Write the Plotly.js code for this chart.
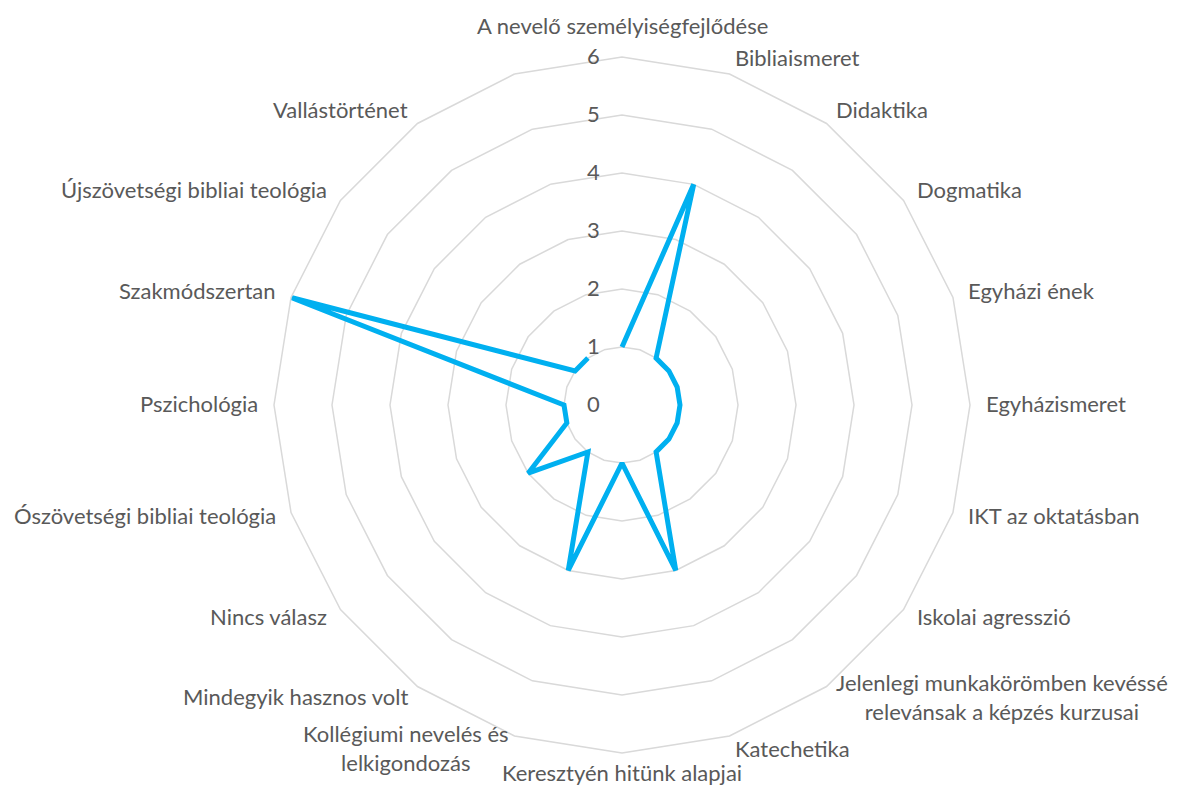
<!DOCTYPE html>
<html>
<head>
<meta charset="utf-8">
<script src="https://cdn.plot.ly/plotly-3.0.1.min.js"></script>
<style>html,body{margin:0;padding:0;background:#fff;}#chart{width:1179px;height:798px;}</style>
</head>
<body>
<div id="chart"></div>
<script>
const categories = [
  "A nevelő személyiségfejlődése",
  "Bibliaismeret",
  "Didaktika",
  "Dogmatika",
  "Egyházi ének",
  "Egyházismeret",
  "IKT az oktatásban",
  "Iskolai agresszió",
  "Jelenlegi munkakörömben kevéssé<br>relevánsak a képzés kurzusai",
  "Katechetika",
  "Keresztyén hitünk alapjai",
  "Kollégiumi nevelés és<br>lelkigondozás",
  "Mindegyik hasznos volt",
  "Nincs válasz",
  "Ószövetségi bibliai teológia",
  "Pszichológia",
  "Szakmódszertan",
  "Újszövetségi bibliai teológia",
  "Vallástörténet",
  " "
];
const values = [1, 4, 1, 1, 1, 1, 1, 1, 1, 3, 1, 3, 1, 2, 1, 1, 6, 1, 1, null];
const radialTicks = [0, 1, 2, 3, 4, 5, 6];

const fontFamily = "Lato, 'Open Sans', sans-serif";
const fontSize = 22;
const textColor = "#595959";
const gridColor = "#d9d9d9";

const W = 1179, H = 798;
const M = {l: 200, r: 135, t: 57, b: 45};
const plotW = W - M.l - M.r, plotH = H - M.t - M.b;
const cx = M.l + plotW / 2, cy = M.t + plotH / 2, R = Math.min(plotW, plotH) / 2;
const px2x = x => (x - M.l) / plotW;
const px2y = y => (H - M.b - y) / plotH;

// category labels placed outside the outer ring, anchored on the side facing the centre
const annotations = categories.map((c, i) => {
  const a = i * 2 * Math.PI / categories.length;
  const s = Math.sin(a), co = Math.cos(a);
  let g = 15;
  if (co > 0.99) g = 30;
  if (co < -0.99) g = 21;
  const x = cx + (R + g) * s;
  const y = cy - (R + g) * co - 2;
  return {
    text: c,
    xref: "paper", yref: "paper",
    x: px2x(x), y: px2y(y),
    xanchor: s > 0.05 ? "left" : (s < -0.05 ? "right" : "center"),
    yanchor: "middle",
    align: "center",
    showarrow: false,
    borderpad: 0,
    font: {family: fontFamily, size: fontSize, color: textColor}
  };
}).filter(a => a.text.trim() !== "");

Plotly.newPlot("chart", [{
  type: "scatterpolar",
  mode: "lines",
  r: values,
  theta: categories,
  connectgaps: false,
  line: {color: "#00B0F0", width: 5, shape: "linear"},
  hoverinfo: "skip",
  showlegend: false
}], {
  width: W,
  height: H,
  margin: M,
  paper_bgcolor: "#ffffff",
  plot_bgcolor: "#ffffff",
  font: {family: fontFamily, size: fontSize, color: textColor},
  showlegend: false,
  annotations: annotations,
  polar: {
    bgcolor: "#ffffff",
    gridshape: "linear",
    radialaxis: {
      range: [0, 6],
      tickvals: radialTicks,
      ticktext: radialTicks.map(String),
      angle: 90,
      side: "counterclockwise",
      tickangle: 90,
      showline: false,
      showgrid: true,
      gridcolor: gridColor,
      gridwidth: 1.5,
      ticks: "outside",
      ticklen: 14,
      tickcolor: "rgba(0,0,0,0)",
      tickfont: {family: fontFamily, size: fontSize, color: textColor}
    },
    angularaxis: {
      type: "category",
      categoryorder: "array",
      categoryarray: categories,
      direction: "clockwise",
      rotation: 90,
      showgrid: false,
      showline: true,
      linecolor: gridColor,
      linewidth: 1.5,
      ticks: "",
      showticklabels: false
    }
  }
}, {displayModeBar: false, staticPlot: true});
</script>
</body>
</html>
